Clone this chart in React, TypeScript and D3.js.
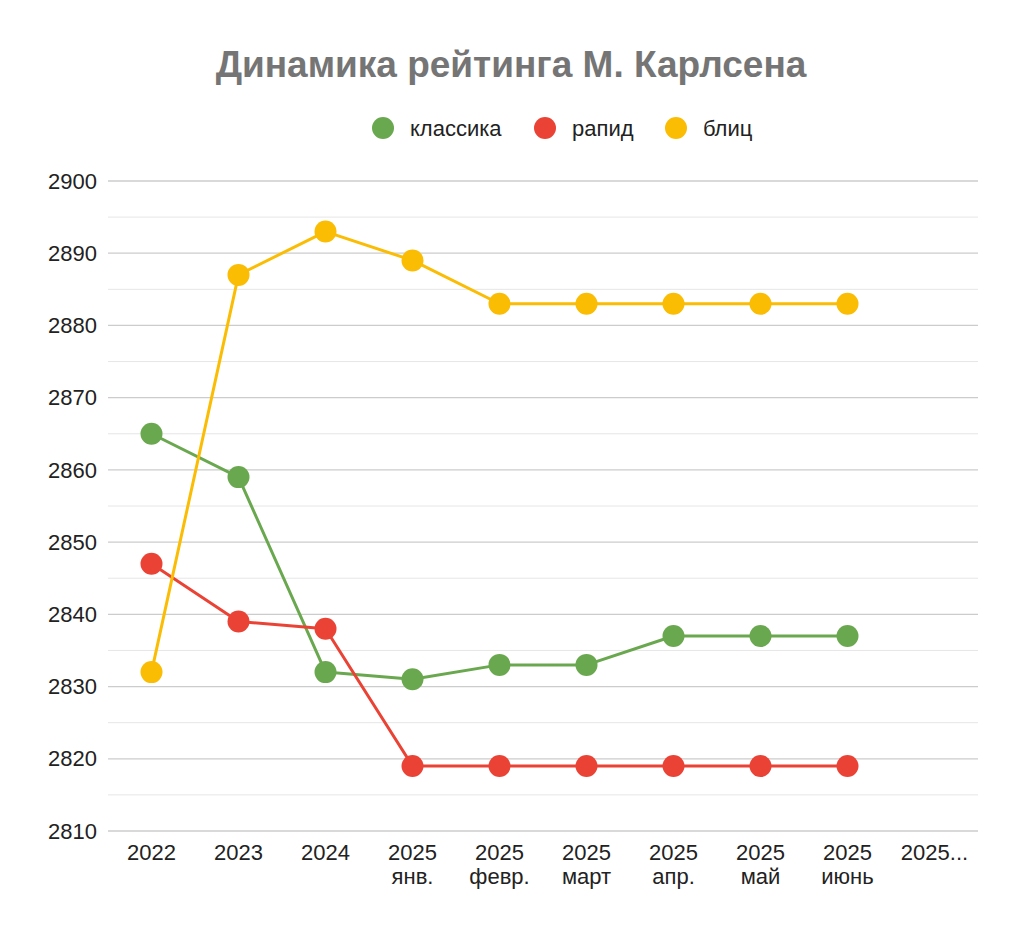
import React, { useEffect, useRef } from 'react';
import * as d3 from 'd3';

const categories = ['2022', '2023', '2024', '2025 янв.', '2025 февр.', '2025 март', '2025 апр.', '2025 май', '2025 июнь', '2025...'];
const classic = [2865, 2859, 2832, 2831, 2833, 2833, 2837, 2837, 2837, null];
const rapid = [2847, 2839, 2838, 2819, 2819, 2819, 2819, 2819, 2819, null];
const blitz = [2832, 2887, 2893, 2889, 2883, 2883, 2883, 2883, 2883, null];
const seriesNames = ['классика', 'рапид', 'блиц'];
const seriesColors = ['#6aa84f', '#ea4335', '#fbbc04'];
const yTicks = [2810, 2820, 2830, 2840, 2850, 2860, 2870, 2880, 2890, 2900];

const width = 1024;
const height = 934;

const App: React.FC = () => {
    const svgRef = useRef<SVGSVGElement | null>(null);

    useEffect(() => {
        const margin = { top: 181, right: 46, bottom: 103, left: 108 };
        const font = 'Arial, "Liberation Sans", sans-serif';

        const svg = d3.select(svgRef.current)
            .attr('width', width)
            .attr('height', height);
        svg.selectAll('*').remove();

        const x = d3.scaleBand<string>()
            .domain(categories)
            .range([margin.left, width - margin.right]);

        const y = d3.scaleLinear()
            .domain([2810, 2900])
            .range([height - margin.bottom, margin.top]);

        // minor gridlines
        svg.append('g')
            .selectAll('line')
            .data(d3.range(2815, 2900, 10))
            .join('line')
            .attr('x1', margin.left)
            .attr('x2', width - margin.right)
            .attr('y1', d => y(d))
            .attr('y2', d => y(d))
            .attr('stroke', '#e6e6e6')
            .attr('stroke-width', 1);

        // major gridlines
        svg.append('g')
            .selectAll('line')
            .data(yTicks)
            .join('line')
            .attr('x1', margin.left)
            .attr('x2', width - margin.right)
            .attr('y1', d => y(d))
            .attr('y2', d => y(d))
            .attr('stroke', '#cccccc')
            .attr('stroke-width', 1.3);

        // y axis labels
        svg.append('g')
            .selectAll('text')
            .data(yTicks)
            .join('text')
            .attr('x', margin.left - 11)
            .attr('y', d => y(d))
            .attr('dy', '0.35em')
            .attr('text-anchor', 'end')
            .attr('font-family', font)
            .attr('font-size', 22)
            .attr('fill', '#222')
            .text(d => d);

        // x axis labels
        const xl = svg.append('g')
            .selectAll('text')
            .data(categories)
            .join('text')
            .attr('x', d => (x(d) as number) + x.bandwidth() / 2)
            .attr('y', height - margin.bottom + 29)
            .attr('text-anchor', 'middle')
            .attr('font-family', font)
            .attr('font-size', 22)
            .attr('fill', '#222');
        xl.each(function (d) {
            const parts = d === '2025...' ? [d] : d.split(' ');
            const t = d3.select(this);
            parts.forEach((p, i) => {
                t.append('tspan')
                    .attr('x', (x(d) as number) + x.bandwidth() / 2)
                    .attr('dy', i === 0 ? 0 : 24)
                    .text(p);
            });
        });

        const allSeries = [classic, rapid, blitz];

        const line = d3.line<number | null>()
            .defined(d => d !== null)
            .x((_, i) => (x(categories[i]) as number) + x.bandwidth() / 2)
            .y(d => y(d as number));

        allSeries.forEach((s, si) => {
            svg.append('path')
                .datum(s)
                .attr('fill', 'none')
                .attr('stroke', seriesColors[si])
                .attr('stroke-width', 3)
                .attr('stroke-linejoin', 'round')
                .attr('d', line);
        });

        allSeries.forEach((s, si) => {
            svg.append('g')
                .selectAll('circle')
                .data(s.map((v, i) => ({ v, c: categories[i] })).filter(d => d.v !== null))
                .join('circle')
                .attr('cx', d => (x(d.c) as number) + x.bandwidth() / 2)
                .attr('cy', d => y(d.v as number))
                .attr('r', 11)
                .attr('fill', seriesColors[si]);
        });

        // title
        svg.append('text')
            .attr('x', 511)
            .attr('y', 77)
            .attr('text-anchor', 'middle')
            .attr('font-family', font)
            .attr('font-weight', 'bold')
            .attr('font-size', 37)
            .attr('fill', '#757575')
            .text('Динамика рейтинга М. Карлсена');

        // legend
        const legendX = [383, 545, 676];
        const legend = svg.append('g');
        seriesNames.forEach((name, i) => {
            legend.append('circle')
                .attr('cx', legendX[i])
                .attr('cy', 128)
                .attr('r', 11)
                .attr('fill', seriesColors[i]);
            legend.append('text')
                .attr('x', legendX[i] + 27)
                .attr('y', 128)
                .attr('dy', '0.35em')
                .attr('font-family', font)
                .attr('font-size', 22)
                .attr('fill', '#222')
                .text(name);
        });
    }, []);

    return <svg ref={svgRef} style={{ position: 'absolute', left: 0, top: 0 }}></svg>;
};

export default App;
